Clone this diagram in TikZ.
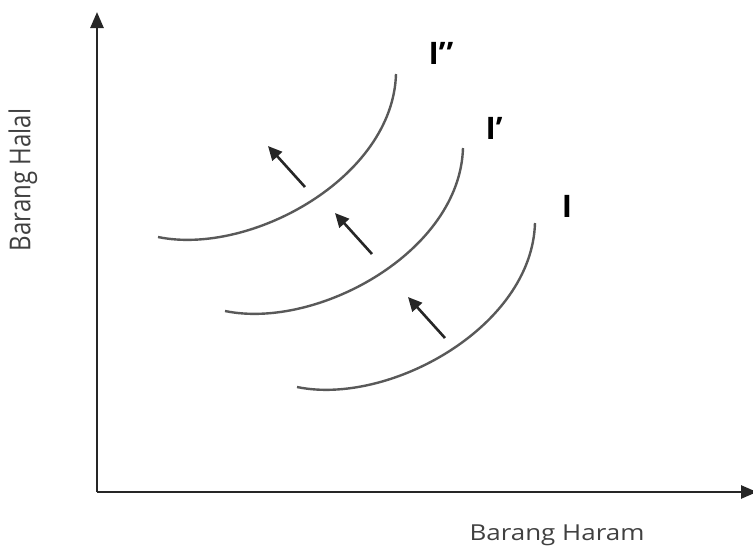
\documentclass[tikz,border=0pt]{standalone}
\usepackage{fontspec}
\setmainfont{Open Sans}
\usetikzlibrary{arrows.meta}
\begin{document}
\begin{tikzpicture}[x=1pt,y=-1pt,
  axis/.style={line width=2.6pt,draw=black!85,-{Triangle[length=16pt,width=13pt]}},
  curve/.style={line width=2.4pt,draw=black!65},
  movearrow/.style={line width=2.6pt,draw=black!85,-{Triangle[length=14pt,width=13pt]}},
  lbl/.style={font=\fontsize{31}{33}\selectfont\bfseries,inner sep=0pt},
  axlbl/.style={font=\fontsize{22}{24}\selectfont,text=black!75,inner sep=0pt}]
\useasboundingbox (0,0) rectangle (753,550);
\coordinate (O) at (97,492);
\coordinate (Ytop) at (97,12);
\coordinate (Xend) at (757,492);
\draw[axis] (O) -- (Ytop);
\draw[axis] (O) -- (Xend);
% curves
\coordinate (a1) at (158,237); \coordinate (a2) at (396,74);
\coordinate (b1) at (225,311); \coordinate (b2) at (463,148);
\coordinate (c1) at (297,387); \coordinate (c2) at (535,223);
\draw[curve] (a1) .. controls (250,256) and (393,178) .. (a2);
\draw[curve] (b1) .. controls (317,330) and (460,252) .. (b2);
\draw[curve] (c1) .. controls (389,406) and (532,327) .. (c2);
% arrows
\coordinate (p1) at (305,187); \coordinate (q1) at (268,146);
\coordinate (p2) at (372,254); \coordinate (q2) at (335,213);
\coordinate (p3) at (445,338); \coordinate (q3) at (408,297);
\draw[movearrow] (p1) -- (q1);
\draw[movearrow] (p2) -- (q2);
\draw[movearrow] (p3) -- (q3);
% labels
\node[lbl] (L2) at (441,53) {I’\kern1pt’};
\node[lbl] (L1) at (494,128) {I’};
\node[lbl] (L0) at (567,206) {I};
\node[axlbl] (XL) at (557,535) {\scalebox{1.18}[1]{Barang Haram}};
\node[axlbl,rotate=90] (YL) at (23,180) {\scalebox{1}[1.2]{\fontsize{24}{26}\selectfont Barang Halal}};
\end{tikzpicture}
\end{document}
